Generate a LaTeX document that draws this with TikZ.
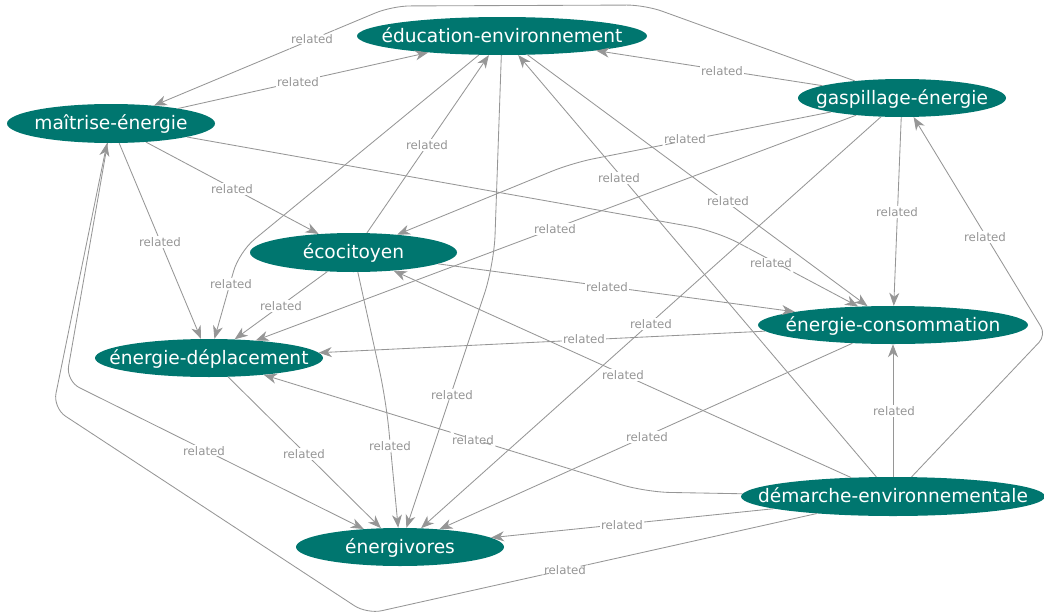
\documentclass[tikz,border=0pt]{standalone}
\usepackage{fontspec}
\setmainfont{DejaVu Sans}
\usetikzlibrary{shapes.geometric,arrows.meta}
\definecolor{nodeteal}{RGB}{0,118,111}
\definecolor{edgegray}{RGB}{150,150,150}
\definecolor{lblgray}{RGB}{150,150,150}
\newcommand{\cname}[1]{\makebox[0pt]{#1}}
\tikzset{
  concept/.style={ellipse, fill=nodeteal, text=white, inner sep=0pt,
    font=\fontsize{18.6}{22}\selectfont, text height=16pt, text depth=3.4pt,
    minimum height=38pt},
  edge/.style={draw=edgegray, line width=0.85pt,
    -{Stealth[length=13pt,width=10pt,inset=4pt]}},
  lbl/.style={fill=white, text=lblgray, font=\fontsize{11.8}{14}\selectfont,
    inner sep=1.5pt},
}
\begin{document}
\begin{tikzpicture}[x=1pt,y=-1pt]
\useasboundingbox (0,0) rectangle (1044,613);
% concepts
\node[concept, minimum width=290pt] (edu) at (502,36) {\cname{éducation-environnement}};
\node[concept, minimum width=208pt, minimum height=39pt] (mai) at (111,123.5) {\cname{maîtrise-énergie}};
\node[concept, minimum width=208pt] (gas) at (902,98) {\cname{gaspillage-énergie}};
\node[concept, minimum width=207pt, minimum height=39pt] (eco) at (353.5,252.5) {\cname{écocitoyen}};
\node[concept, minimum width=228pt] (dep) at (209,358) {\cname{énergie-déplacement}};
\node[concept, minimum width=270pt] (con) at (893,325) {\cname{énergie-consommation}};
\node[concept, minimum width=304pt, minimum height=39pt] (dem) at (893,496.5) {\cname{démarche-environnementale}};
\node[concept, minimum width=208pt] (viv) at (400,547) {\cname{énergivores}};
% curved / routed connectors
\draw[edge, rounded corners=18pt] (gas) -- (645,5) -- (392,6) -- (mai) node[lbl] at (312,39) {related};
\draw[edge, rounded corners=10pt] (dem) -- (1046,335) -- (gas) node[lbl] at (985,237) {related};
\draw[edge, rounded corners=25pt] (dem) -- (645,492) -- (dep) node[lbl] at (473,440) {related};
\draw[edge, rounded corners=15pt] (dem) -- (367,614) -- (53,408) -- (mai) node[lbl] at (565,570) {related};
\draw[edge, rounded corners=15pt] (mai) -- (66,381) -- (viv) node[lbl] at (204,451) {related};
\draw[edge, rounded corners=20pt] (edu) -- (239,252) -- (dep) node[lbl] at (231,284) {related};
\draw[edge, rounded corners=22pt] (gas) -- (572,163) -- (eco) node[lbl] at (685,139) {related};
\draw[edge, rounded corners=25pt] (mai) -- (716,231) -- (con) node[lbl] at (771,263) {related};
\draw[edge, rounded corners=30pt] (edu) -- (494,265) -- (viv) node[lbl] at (452,395) {related};
\draw[edge, rounded corners=30pt] (eco) -- (386,400) -- (viv) node[lbl] at (390,446) {related};
% straight connectors
\draw[edge] (mai) -- (edu) node[lbl] at (298,82) {related};
\draw[edge] (gas) -- (edu) node[lbl] at (722,71) {related};
\draw[edge] (mai) -- (eco) node[lbl] at (232,189) {related};
\draw[edge] (mai) -- (dep) node[lbl] at (160,242) {related};
\draw[edge] (eco) -- (dep) node[lbl] at (281,306) {related};
\draw[edge] (eco) -- (edu) node[lbl] at (427,145) {related};
\draw[edge] (dem) -- (edu) node[lbl] at (619,178) {related};
\draw[edge] (edu) -- (con) node[lbl] at (728,201) {related};
\draw[edge] (gas) -- (dep) node[lbl] at (555,229) {related};
\draw[edge] (gas) -- (con) node[lbl] at (897,212) {related};
\draw[edge] (eco) -- (con) node[lbl] at (607,287) {related};
\draw[edge] (gas) -- (viv) node[lbl] at (651,324) {related};
\draw[edge] (con) -- (dep) node[lbl] at (584,339) {related};
\draw[edge] (dem) -- (eco) node[lbl] at (623,375) {related};
\draw[edge] (dep) -- (viv) node[lbl] at (304,454) {related};
\draw[edge] (con) -- (viv) node[lbl] at (647,437) {related};
\draw[edge] (dem) -- (con) node[lbl] at (894,411) {related};
\draw[edge] (dem) -- (viv) node[lbl] at (622,525) {related};
\end{tikzpicture}
\end{document}
